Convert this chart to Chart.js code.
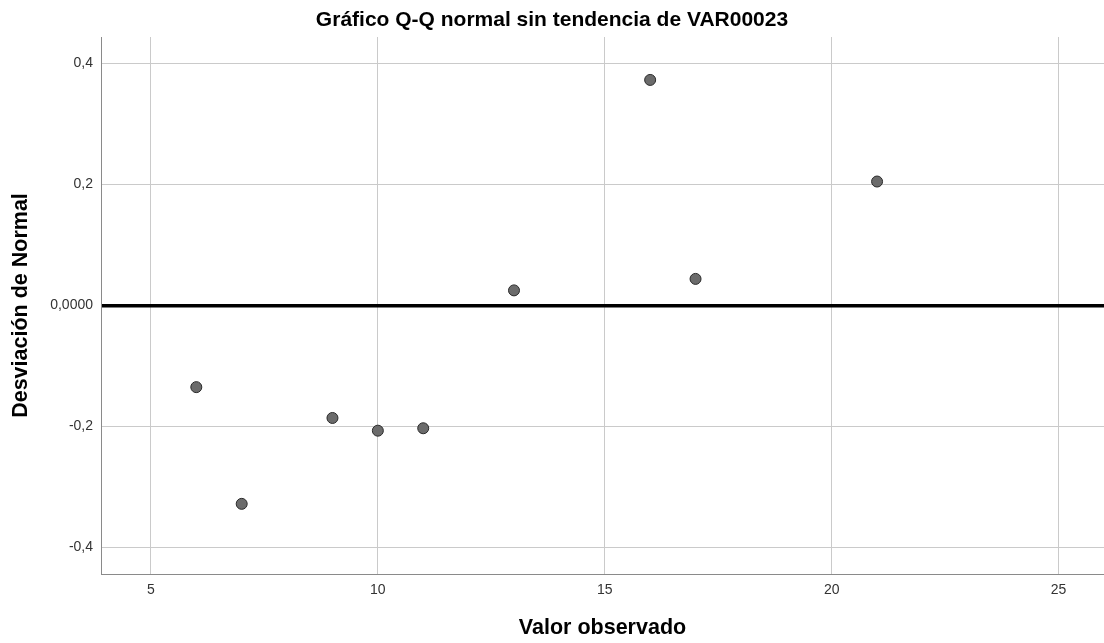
<!DOCTYPE html>
<html>
<head>
<meta charset="utf-8">
<script src="https://cdn.jsdelivr.net/npm/chart.js@4.4.1/dist/chart.umd.min.js"></script>
<style>
    body { margin: 0; background: #fff; }
    #wrap { width: 1104px; height: 643px; }
</style>
</head>
<body>
<div id="wrap"><canvas id="grafico" width="1104" height="643"></canvas></div>
<script>
// valores observados y desviaciones de la normal
const valorObservado = [6, 7, 9, 10, 11, 13, 16, 17, 21];
const desviacion = [-0.135, -0.328, -0.186, -0.207, -0.203, 0.025, 0.373, 0.044, 0.205];

const xTicks = [5, 10, 15, 20, 25];
const yTicks = [-0.4, -0.2, 0, 0.2, 0.4];
const yTickLabels = ['-0,4', '-0,2', '0,0000', '0,2', '0,4'];

const fuente = "'Liberation Sans', Arial, sans-serif";

var puntos = valorObservado.map(function(v, i) {
    return { x: v, y: desviacion[i] };
});

var ctx = document.getElementById('grafico').getContext('2d');
var grafico = new Chart(ctx, {
    type: 'scatter',
    data: {
        datasets: [{
            label: 'VAR00023',
            data: puntos,
            backgroundColor: '#6b6b6b',
            borderColor: '#2a2a2a',
            borderWidth: 1,
            pointRadius: 5.5,
            pointHoverRadius: 5.5
        }]
    },
    options: {
        responsive: false,
        animation: false,
        layout: { padding: 0, autoPadding: false },
        plugins: {
            legend: { display: false },
            tooltip: { enabled: false },
            title: {
                display: true,
                text: 'Gráfico Q-Q normal sin tendencia de VAR00023',
                color: '#000',
                font: { family: fuente, size: 21, weight: 'bold' },
                padding: { top: 7.5, bottom: 4.3 }
            }
        },
        scales: {
            x: {
                type: 'linear',
                min: 3.9,
                max: 26,
                afterBuildTicks: function(scale) {
                    scale.ticks = xTicks.map(v => ({ value: v }));
                },
                afterFit: function(scale) {
                    scale.height = 69;
                    scale.paddingLeft = 0;
                    scale.paddingRight = 0;
                },
                grid: { color: '#cacaca', lineWidth: 1, drawTicks: false },
                border: { color: '#8a8a8a', width: 1 },
                ticks: {
                    color: '#333',
                    padding: 7.5,
                    font: { family: fuente, size: 14 }
                },
                title: {
                    display: true,
                    text: 'Valor observado',
                    color: '#000',
                    font: { family: fuente, size: 21.5, weight: 'bold' },
                    padding: { top: 0, bottom: 2 }
                }
            },
            y: {
                type: 'linear',
                min: -0.444,
                max: 0.444,
                afterBuildTicks: function(scale) {
                    scale.ticks = yTicks.map(v => ({ value: v }));
                },
                afterFit: function(scale) {
                    scale.width = 101;
                    scale.paddingTop = 0;
                    scale.paddingBottom = 0;
                },
                grid: {
                    drawTicks: false,
                    color: function(c) {
                        return c.tick && c.tick.value === 0 ? '#000' : '#cacaca';
                    },
                    lineWidth: function(c) {
                        return c.tick && c.tick.value === 0 ? 3.5 : 1;
                    }
                },
                border: { color: '#8a8a8a', width: 1 },
                ticks: {
                    color: '#333',
                    padding: 8,
                    font: { family: fuente, size: 14 },
                    callback: function(value) {
                        var i = yTicks.indexOf(value);
                        return i >= 0 ? yTickLabels[i] : '';
                    }
                },
                title: {
                    display: true,
                    text: 'Desviación de Normal',
                    color: '#000',
                    font: { family: fuente, size: 21.5, weight: 'bold' },
                    padding: { top: 8, bottom: 0 }
                }
            }
        }
    }
});
</script>
</body>
</html>
